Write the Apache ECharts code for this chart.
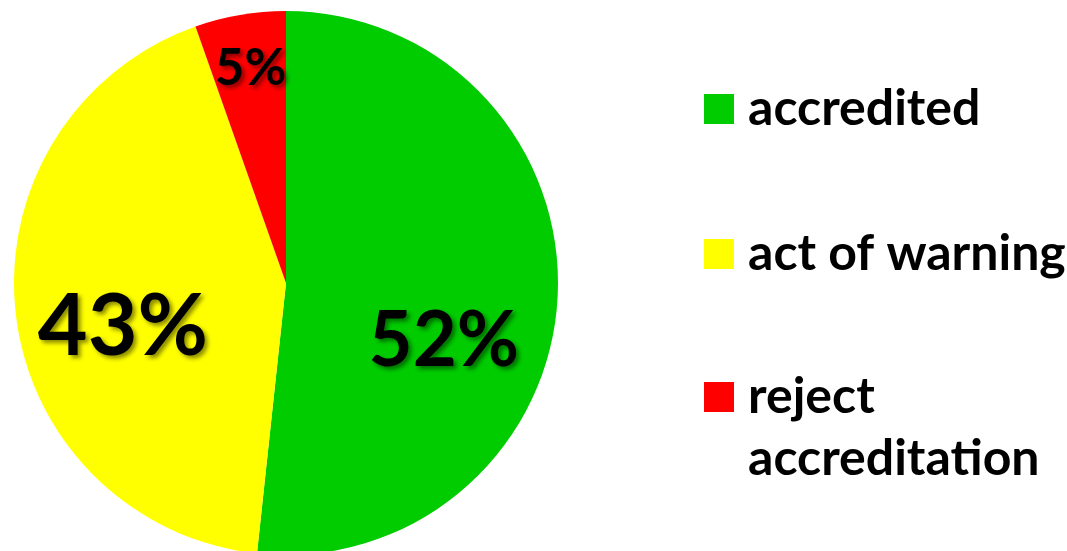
<!DOCTYPE html>
<html>
<head>
<meta charset="utf-8">
<script src="https://cdn.jsdelivr.net/npm/echarts@6/dist/echarts.min.js"></script>
<style>
  html, body { margin: 0; padding: 0; background: #fff; }
  #chart { width: 1067px; height: 551px; }
</style>
</head>
<body>
<div id="chart"></div>
<script>
// data (slice angles), labels show rounded percents
const categories = ['accredited', 'act of warning', 'reject\naccreditation']
const shares = [51.7, 42.9, 5.4]
const colors = ['#00cc00', '#ffff00', '#ff0000']

// label placement / size per slice (offset from the "inside" anchor)
const labelOffsets = [[19, 51], [-25, 28], [-12, -77]]
const labelSizes = [76, 86, 51]
// legend rows: top of each item
const legendTops = [78, 223, 304]

const chart = echarts.init(document.getElementById('chart'))

const labelShadow = {
  textShadowColor: 'rgba(0,0,0,0.45)',
  textShadowBlur: 4,
  textShadowOffsetX: 3,
  textShadowOffsetY: 3
}

chart.setOption({
  animation: false,
  color: colors,
  legend: categories.map((name, i) => ({
    data: [name],
    orient: 'vertical',
    left: 704,
    top: legendTops[i],
    padding: 0,
    icon: 'rect',
    itemWidth: 30,
    itemHeight: 30,
    itemGap: 0,
    selectedMode: false,
    // keep the first line of a wrapped name level with the square
    formatter: n => (n.indexOf('\n') >= 0 ? '\n' + n : n),
    textStyle: {
      fontFamily: 'Lato',
      fontWeight: 'bold',
      fontSize: 50,
      lineHeight: 62,
      color: '#000',
      padding: [0, 0, 0, 9]
    }
  })),
  series: [{
    type: 'pie',
    center: [286, 283],
    radius: 272,
    startAngle: 90,
    clockwise: true,
    percentPrecision: 0,
    avoidLabelOverlap: false,
    itemStyle: { borderWidth: 0 },
    emphasis: { disabled: true },
    label: {
      show: true,
      position: 'inside',
      formatter: '{d}%',
      fontFamily: 'Lato',
      fontWeight: 'bold',
      color: '#000'
    },
    labelLine: { show: false },
    data: categories.map((name, i) => ({
      name: name,
      value: shares[i],
      label: Object.assign({
        fontSize: labelSizes[i],
        offset: labelOffsets[i]
      }, labelShadow)
    }))
  }]
})
</script>
</body>
</html>
